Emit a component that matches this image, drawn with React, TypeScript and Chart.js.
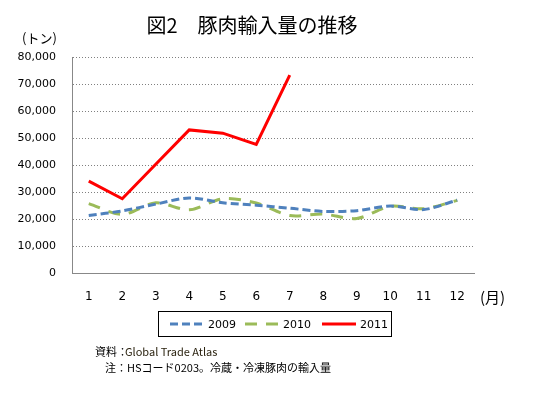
import React, { useEffect, useRef } from "react";
import { Chart, registerables } from "chart.js";

Chart.register(...registerables);

const months = ["1", "2", "3", "4", "5", "6", "7", "8", "9", "10", "11", "12"];
const series2009 = [21300, 23000, 25500, 27800, 26000, 25100, 24000, 22800, 23100, 24800, 23500, 27000];
const series2010 = [25700, 21700, 26000, 23400, 27500, 25900, 21300, 21800, 20200, 24700, 23800, 26900];
const series2011 = [34000, 27500, 40300, 53000, 51800, 47600, 73300];
const seriesLabels = ["2009", "2010", "2011"];
const titleText = "図2　豚肉輸入量の推移";
const yUnit = "(トン)";
const xUnit = "(月)";
const note1a = "資料：";
const note1b = "Global Trade Atlas";
const note2 = "注：HSコード0203。冷蔵・冷凍豚肉の輸入量";

const JP = '"Noto Sans CJK JP", sans-serif';
const NUM = '"DejaVu Sans", sans-serif';

const extras = {
  id: "extras",
  afterDraw(chart: any) {
    const ctx = chart.ctx as CanvasRenderingContext2D;
    ctx.save();
    ctx.fillStyle = "#000";
    // title
    ctx.font = `20px ${JP}`;
    ctx.textAlign = "center";
    ctx.textBaseline = "middle";
    ctx.fillText(titleText, 252, 25);
    // units
    ctx.font = `13px ${JP}`;
    ctx.textAlign = "left";
    ctx.fillText(yUnit, 22, 38);
    ctx.font = `15px ${JP}`;
    ctx.fillText(xUnit, 480, 297);
    // legend box
    const bx = 158.5, by = 311.5, bw = 233, bh = 25;
    ctx.strokeStyle = "#000";
    ctx.lineWidth = 1;
    ctx.setLineDash([]);
    ctx.strokeRect(bx, by, bw, bh);
    const cy = 324;
    const sx = [170, 245, 322];
    chart.data.datasets.forEach((ds: any, i: number) => {
      ctx.save();
      ctx.strokeStyle = ds.borderColor;
      ctx.lineWidth = ds.borderWidth;
      ctx.setLineDash(ds.borderDash || []);
      ctx.beginPath();
      ctx.moveTo(sx[i], cy);
      ctx.lineTo(sx[i] + 34, cy);
      ctx.stroke();
      ctx.restore();
      ctx.fillStyle = "#000";
      ctx.font = `11px ${NUM}`;
      ctx.textAlign = "left";
      ctx.textBaseline = "middle";
      ctx.fillText(ds.label, sx[i] + 38, cy + 1);
    });
    // notes
    ctx.font = `11px ${JP}`;
    ctx.textBaseline = "middle";
    ctx.fillStyle = "#000";
    ctx.fillText(note1a, 95, 352);
    const w = ctx.measureText(note1a).width;
    ctx.fillStyle = "#2b2310";
    ctx.fillText(note1b, 95 + w - 3, 352);
    ctx.fillStyle = "#000";
    ctx.fillText(note2, 105, 368);
    ctx.restore();
  },
};

export default function App() {
  const ref = useRef<HTMLCanvasElement>(null);
  useEffect(() => {
    document.body.style.margin = "0";
    const chart = new Chart(ref.current!, {
      type: "line",
      data: {
        labels: months,
        datasets: [
          {
            label: seriesLabels[0],
            data: series2009,
            borderColor: "#4F81BD",
            borderWidth: 3,
            borderDash: [8, 4],
            pointRadius: 0,
            tension: 0.3,
            fill: false,
          },
          {
            label: seriesLabels[1],
            data: series2010,
            borderColor: "#9BBB59",
            borderWidth: 3,
            borderDash: [12, 9],
            pointRadius: 0,
            tension: 0.3,
            fill: false,
          },
          {
            label: seriesLabels[2],
            data: series2011,
            borderColor: "#FF0000",
            borderWidth: 3,
            pointRadius: 0,
            tension: 0,
            fill: false,
          },
        ],
      },
      options: {
        responsive: false,
        animation: false,
        layout: { padding: { left: 0, top: 57, right: 66, bottom: 0 } },
        plugins: { legend: { display: false }, tooltip: { enabled: false }, title: { display: false } },
        scales: {
          x: {
            offset: true,
            grid: { display: false, drawTicks: false },
            border: { display: true, color: "#888", width: 1 },
            ticks: { color: "#000", font: { family: NUM, size: 12 }, padding: 17, maxRotation: 0 },
            afterFit: (s: any) => {
              s.height = 121;
            },
          },
          y: {
            min: 0,
            max: 80000,
            grid: { color: "#808080", lineWidth: 1, drawTicks: false },
            border: { display: true, color: "#888", width: 1, dash: [1, 2] },
            ticks: {
              stepSize: 10000,
              color: "#000",
              padding: 16,
              font: { family: NUM, size: 11 },
              callback: (v: any) => Number(v).toLocaleString("en-US"),
            },
            afterFit: (s: any) => {
              s.width = 72;
            },
          },
        },
      },
      plugins: [extras],
    });
    return () => chart.destroy();
  }, []);
  return (
    <div style={{ position: "absolute", left: 0, top: 0, width: 540, height: 394 }}>
      <canvas ref={ref} width={540} height={394} />
    </div>
  );
}
